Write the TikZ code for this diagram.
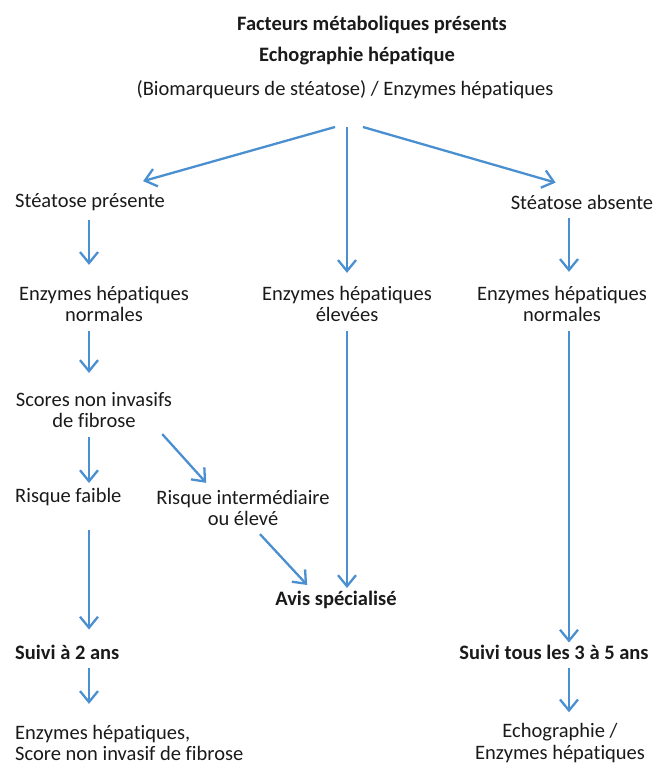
\documentclass[tikz,border=0pt]{standalone}
\usepackage{fontspec}
\setmainfont{Carlito}[Ligatures=NoCommon]
\usetikzlibrary{arrows.meta,positioning}
\definecolor{flow}{HTML}{4A8FD0}
\definecolor{ink}{HTML}{1A1A1A}

\begin{document}
\begin{tikzpicture}[x=1pt, y=-1pt,
  txt/.style={inner sep=0pt, align=center, text=ink,
              font=\fontsize{20.5}{21.5}\selectfont},
  hdr/.style={txt, font=\fontsize{20.5}{21.5}\selectfont\bfseries},
  arr/.style={-{Straight Barb[length=11pt,width=18pt]}, line width=2.3pt, flow}
]
  \useasboundingbox (0,0) rectangle (659,763);

  % Header
  \node[hdr] (facts) at (372,25) {Facteurs métaboliques présents};
  \node[hdr] (echo) at (357,56) {Echographie hépatique};
  \node[txt] (bio) at (345,90) {(Biomarqueurs de stéatose) / Enzymes hépatiques};
  \coordinate (fork) at (347,127);

  % Columns
  \coordinate (colL) at (89,0);
  \coordinate (colM) at (347,0);
  \coordinate (colR) at (569,0);

  % Nodes
  \node[txt, anchor=west] (present) at (15,202) {Stéatose présente};
  \node[txt] (absent) at (582,202) {Stéatose absente};
  \node[txt] (enzL) at (104,304) {Enzymes hépatiques\\normales};
  \node[txt] (enzM) at (347,304) {Enzymes hépatiques\\élevées};
  \node[txt] (enzR) at (562,304) {Enzymes hépatiques\\normales};
  \node[txt] (scores) at (94,410) {Scores non invasifs\\de fibrose};
  \node[txt, anchor=west] (low) at (15,497) {Risque faible};
  \node[txt] (high) at (243,508) {Risque intermédiaire\\ou élevé};
  \node[hdr] (avis) at (336,600) {Avis spécialisé};
  \node[hdr, anchor=west] (two) at (15,652) {Suivi à 2 ans};
  \node[hdr] (five) at (554,652) {Suivi tous les 3 à 5 ans};
  \node[txt, anchor=west, align=left] (checkL) at (15,743)
    {Enzymes hépatiques,\\Score non invasif de fibrose};
  \node[txt] (checkR) at (560,743) {Echographie /\\Enzymes hépatiques};

  % Fork
  \draw[arr] ([xshift=-12pt]fork) -- ([xshift=-22pt,yshift=12pt]present.north east);
  \draw[arr] (fork) -- (enzM.north -| colM) [shorten >=13pt];
  \draw[arr] ([xshift=16pt]fork) -- ([xshift=45pt,yshift=12pt]absent.north west);

  % Left branch
  \draw[arr, shorten <=9pt, shorten >=21pt] (present.south -| colL) -- (enzL.north -| colL);
  \draw[arr, shorten <=9pt, shorten >=19pt] (enzL.south -| colL) -- (scores.north -| colL);
  \draw[arr, shorten <=9pt, shorten >=5pt] (scores.south -| colL) -- (low.north -| colL);
  \draw[arr] ([xshift=-10pt,yshift=-6pt]scores.south east) -- ([xshift=50pt,yshift=7pt]high.north west);
  \draw[arr, shorten <=24pt, shorten >=15pt] (low.south -| colL) -- (two.north -| colL);
  \draw[arr, shorten <=9pt, shorten >=21pt] (two.south -| colL) -- (checkL.north -| colL);
  \draw[arr] ([xshift=17pt,yshift=-8pt]high.south) -- ([xshift=32pt,yshift=6pt]avis.north west);

  % Middle branch
  \draw[arr, shorten <=9pt, shorten >=3pt] (enzM.south -| colM) -- (avis.north -| colM);

  % Right branch
  \draw[arr, shorten <=9pt, shorten >=14pt] (absent.south -| colR) -- (enzR.north -| colR);
  \draw[arr, shorten <=9pt, shorten >=2pt] (enzR.south -| colR) -- (five.north -| colR);
  \draw[arr, shorten <=9pt, shorten >=11pt] (five.south -| colR) -- (checkR.north -| colR);
\end{tikzpicture}
\end{document}
